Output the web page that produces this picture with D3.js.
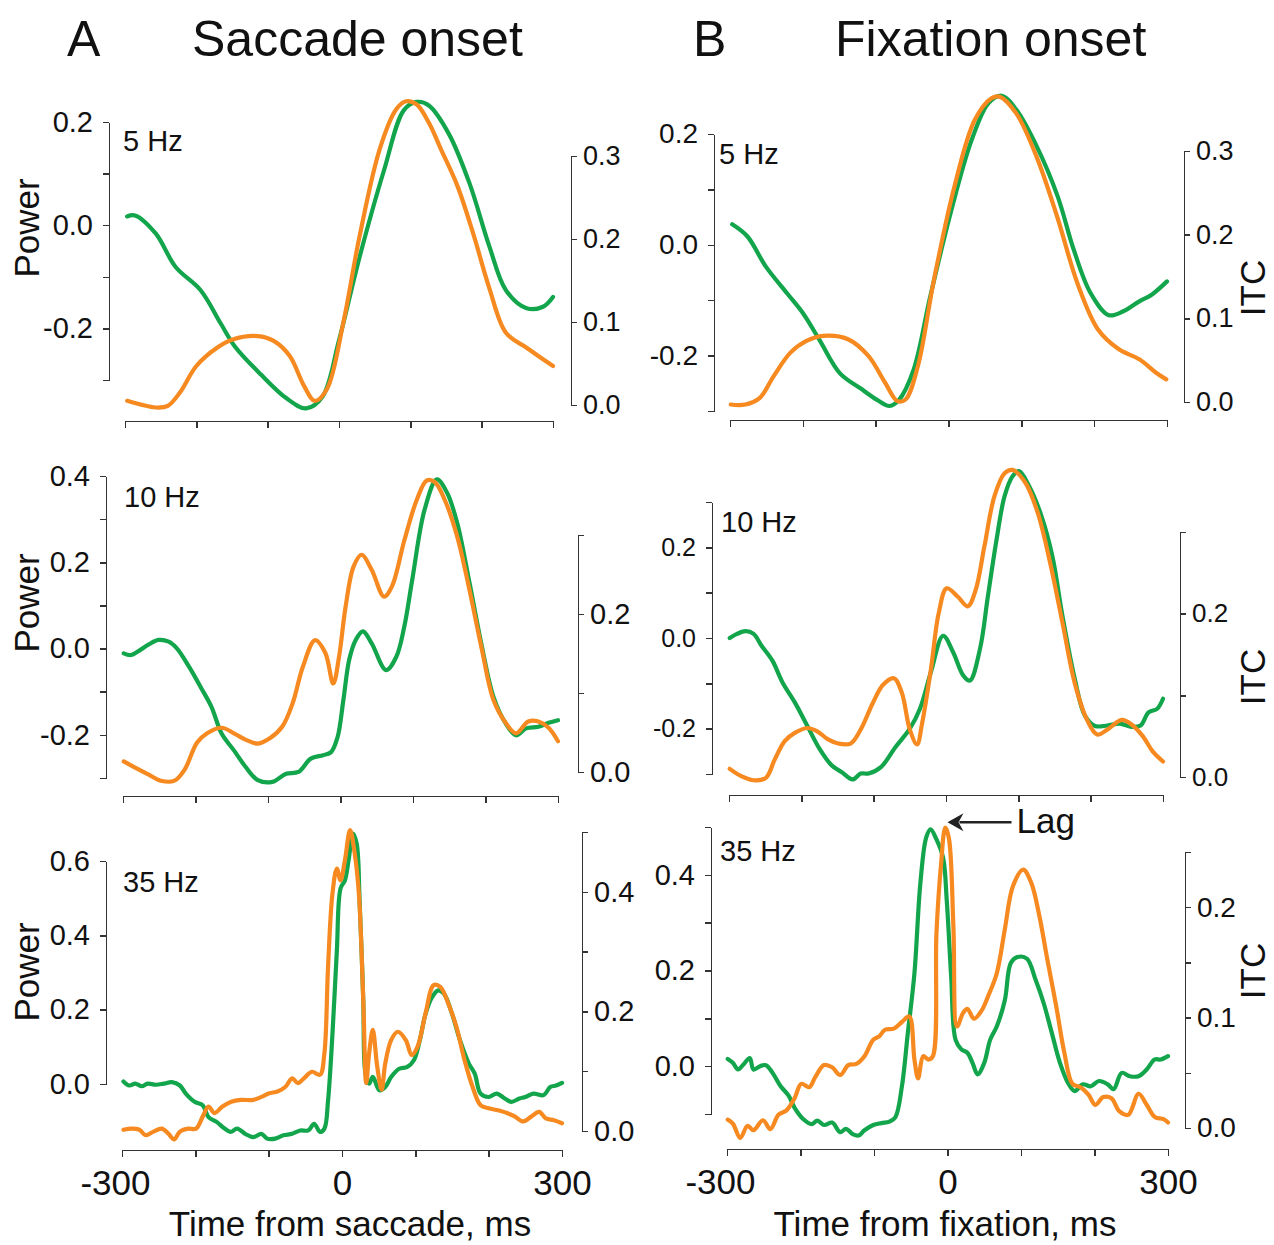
<!DOCTYPE html>
<html>
<head>
<meta charset="utf-8">
<title>Saccade onset / Fixation onset</title>
<script src="https://cdn.jsdelivr.net/npm/d3@7/dist/d3.min.js"></script>
<style>
  body { margin: 0; background: #fff; }
  svg text { font-family: "Liberation Sans", Arial, Helvetica, sans-serif; fill: #111; }
  .axis path, .axis line { stroke: #333; stroke-width: 1.5; fill: none; shape-rendering: crispEdges; }
  .trace { fill: none; stroke-width: 4.2; stroke-linejoin: round; stroke-linecap: round; }
</style>
</head>
<body>
<svg id="fig" width="1274" height="1245"></svg>
<script>
// traces: [time from event (ms), value]
// green = power (left axis), orange = ITC (right axis)
const a5Power = [[-297,0.017],[-286,0.019],[-257,-0.016],[-229,-0.081],[-194,-0.126],[-166,-0.19],[-146,-0.235],[-109,-0.29],[-74,-0.335],[-46,-0.355],[-23,-0.332],[0,-0.223],[29,-0.061],[63,0.106],[91,0.223],[109,0.239],[126,0.232],[154,0.177],[183,0.081],[211,-0.042],[234,-0.126],[263,-0.161],[286,-0.158],[300,-0.139]];
const a5Itc = [[-297,0.005],[-257,-0.003],[-240,-0.001],[-223,0.015],[-200,0.047],[-171,0.069],[-149,0.079],[-114,0.083],[-91,0.077],[-69,0.059],[-49,0.023],[-34,0.005],[-17,0.019],[6,0.099],[29,0.204],[57,0.308],[80,0.356],[94,0.366],[109,0.362],[126,0.34],[143,0.308],[166,0.264],[189,0.204],[211,0.14],[234,0.087],[263,0.069],[286,0.055],[300,0.047]];

const b5Power = [[-297,0.037],[-276,0.015],[-251,-0.039],[-222,-0.087],[-200,-0.123],[-177,-0.172],[-149,-0.232],[-121,-0.259],[-98,-0.28],[-81,-0.291],[-68,-0.28],[-48,-0.226],[-25,-0.093],[4,0.063],[32,0.19],[55,0.256],[73,0.269],[93,0.244],[121,0.178],[150,0.087],[172,-0.009],[195,-0.087],[220,-0.127],[240,-0.12],[262,-0.102],[279,-0.09],[300,-0.066]];
const b5Itc = [[-299,-0.003],[-279,-0.003],[-259,0.005],[-240,0.031],[-217,0.059],[-195,0.073],[-172,0.079],[-138,0.075],[-110,0.055],[-87,0.023],[-70,0.001],[-59,0.003],[-42,0.043],[-20,0.146],[8,0.257],[36,0.337],[59,0.363],[70,0.365],[93,0.345],[121,0.293],[149,0.222],[177,0.142],[205,0.087],[234,0.063],[262,0.051],[285,0.035],[299,0.027]];

const a10Power = [[-299,-0.011],[-289,-0.015],[-276,-0.003],[-265,0.009],[-251,0.02],[-237,0.016],[-226,0.001],[-209,-0.042],[-192,-0.092],[-178,-0.135],[-164,-0.197],[-147,-0.236],[-131,-0.274],[-114,-0.305],[-94,-0.309],[-75,-0.29],[-58,-0.286],[-41,-0.255],[-24,-0.247],[-13,-0.24],[-4,-0.205],[4,-0.119],[12,-0.026],[21,0.02],[31,0.04],[43,0.012],[63,-0.05],[77,-0.019],[88,0.051],[99,0.16],[116,0.322],[133,0.392],[147,0.361],[161,0.291],[178,0.152],[195,0.005],[211,-0.112],[228,-0.174],[242,-0.201],[256,-0.185],[273,-0.181],[287,-0.172],[300,-0.166]];
const a10Itc = [[-299,0.0135],[-282,0.005],[-265,-0.003],[-248,-0.011],[-229,-0.011],[-215,0.003],[-198,0.037],[-184,0.049],[-164,0.056],[-147,0.049],[-131,0.041],[-114,0.036],[-97,0.043],[-80,0.058],[-66,0.087],[-52,0.133],[-35,0.167],[-21,0.151],[-10,0.112],[-2,0.146],[7,0.209],[18,0.26],[29,0.275],[43,0.256],[60,0.222],[71,0.235],[88,0.293],[105,0.344],[119,0.369],[130,0.367],[144,0.344],[161,0.298],[178,0.23],[195,0.155],[211,0.091],[228,0.062],[242,0.049],[259,0.064],[273,0.064],[287,0.056],[300,0.039]];

const b10Power = [[-299,0],[-289,0.009],[-277,0.015],[-266,0.009],[-255,-0.017],[-240,-0.05],[-226,-0.098],[-209,-0.142],[-192,-0.193],[-175,-0.244],[-158,-0.281],[-144,-0.296],[-129,-0.312],[-118,-0.299],[-107,-0.299],[-90,-0.285],[-70,-0.241],[-50,-0.2],[-36,-0.156],[-21,-0.076],[-4,0.005],[10,-0.032],[24,-0.083],[33,-0.094],[47,-0.024],[58,0.093],[70,0.218],[81,0.313],[92,0.357],[101,0.368],[115,0.335],[132,0.269],[147,0.181],[161,0.049],[178,-0.09],[192,-0.171],[206,-0.194],[223,-0.193],[240,-0.189],[257,-0.196],[269,-0.193],[280,-0.164],[292,-0.156],[300,-0.134]];
const b10Itc = [[-299,0.01],[-283,0.001],[-266,-0.004],[-249,-0.001],[-237,0.021],[-223,0.044],[-209,0.054],[-192,0.06],[-178,0.056],[-163,0.046],[-149,0.041],[-132,0.041],[-118,0.058],[-101,0.091],[-87,0.113],[-72,0.121],[-61,0.103],[-50,0.058],[-40,0.04],[-33,0.066],[-21,0.131],[-10,0.201],[1,0.231],[16,0.221],[30,0.209],[41,0.229],[53,0.282],[67,0.344],[81,0.372],[92,0.376],[110,0.36],[127,0.323],[144,0.262],[161,0.189],[178,0.115],[195,0.07],[209,0.052],[223,0.058],[243,0.07],[257,0.064],[272,0.05],[286,0.031],[300,0.019]];

const a35Power = [[-298,0.007],[-290,-0.004],[-282,0.001],[-273,-0.006],[-265,0.001],[-254,-0.002],[-243,0.001],[-232,0.005],[-221,-0.004],[-213,-0.026],[-201,-0.048],[-190,-0.057],[-182,-0.089],[-171,-0.102],[-160,-0.12],[-152,-0.129],[-143,-0.12],[-132,-0.134],[-121,-0.143],[-110,-0.134],[-102,-0.147],[-91,-0.147],[-80,-0.138],[-68,-0.134],[-57,-0.125],[-46,-0.125],[-38,-0.107],[-30,-0.129],[-24,-0.12],[-19,-0.044],[-13,0.135],[-7,0.36],[-2,0.526],[4,0.548],[9,0.602],[15,0.674],[20,0.647],[24,0.494],[29,0.225],[32,0.028],[37,0.001],[42,0.019],[51,-0.017],[59,-0.008],[67,0.019],[78,0.041],[89,0.046],[98,0.064],[106,0.117],[114,0.189],[123,0.234],[131,0.252],[139,0.243],[150,0.189],[161,0.117],[173,0.055],[181,0.028],[189,-0.026],[200,-0.035],[211,-0.026],[222,-0.039],[231,-0.048],[242,-0.039],[250,-0.035],[261,-0.026],[275,-0.03],[284,-0.008],[292,-0.004],[300,0.003]];
const a35Itc = [[-298,0.002],[-287,0.004],[-276,0.002],[-268,-0.007],[-257,-0.001],[-246,0.004],[-237,-0.004],[-229,-0.014],[-221,-0.001],[-210,0.004],[-199,0.004],[-190,0.024],[-182,0.041],[-174,0.03],[-163,0.041],[-151,0.049],[-138,0.052],[-121,0.052],[-110,0.057],[-99,0.063],[-88,0.066],[-77,0.074],[-68,0.088],[-60,0.08],[-52,0.088],[-41,0.099],[-30,0.094],[-24,0.13],[-19,0.275],[-13,0.397],[-7,0.439],[-2,0.419],[4,0.453],[11,0.503],[17,0.467],[23,0.397],[29,0.219],[33,0.08],[37,0.13],[42,0.169],[48,0.108],[54,0.069],[59,0.113],[67,0.152],[76,0.166],[87,0.152],[95,0.127],[103,0.141],[114,0.197],[125,0.244],[134,0.241],[145,0.213],[156,0.174],[167,0.119],[178,0.074],[189,0.043],[200,0.038],[211,0.035],[225,0.03],[236,0.024],[247,0.016],[258,0.024],[269,0.032],[278,0.021],[289,0.018],[300,0.013]];

const b35Power = [[-299,0.015],[-292,0.007],[-285,-0.007],[-278,0.003],[-269,0.017],[-264,-0.007],[-255,0],[-247,0.002],[-238,-0.014],[-227,-0.042],[-216,-0.062],[-208,-0.087],[-196,-0.111],[-185,-0.121],[-177,-0.114],[-168,-0.123],[-157,-0.118],[-146,-0.138],[-138,-0.131],[-129,-0.142],[-121,-0.145],[-113,-0.134],[-101,-0.123],[-90,-0.119],[-79,-0.116],[-71,-0.107],[-62,-0.042],[-54,0.069],[-45,0.194],[-37,0.381],[-29,0.478],[-23,0.495],[-15,0.474],[-6,0.436],[-1,0.346],[5,0.187],[11,0.055],[19,0.035],[27,0.028],[34,0.007],[41,-0.017],[50,0.007],[58,0.055],[67,0.083],[78,0.138],[86,0.215],[95,0.228],[108,0.225],[120,0.18],[131,0.131],[142,0.069],[153,0.007],[164,-0.035],[173,-0.052],[184,-0.038],[195,-0.042],[206,-0.031],[218,-0.038],[226,-0.048],[237,-0.014],[248,-0.021],[260,-0.021],[271,-0.007],[282,0.014],[290,0.014],[300,0.021]];
const b35Itc = [[-299,0.0076],[-292,0.004],[-282,-0.009],[-272,0.002],[-264,-0.002],[-251,0.007],[-241,-0.001],[-230,0.012],[-219,0.016],[-208,0.027],[-199,0.04],[-188,0.037],[-180,0.046],[-168,0.057],[-157,0.055],[-146,0.048],[-135,0.057],[-124,0.058],[-113,0.065],[-101,0.08],[-93,0.083],[-85,0.089],[-73,0.09],[-62,0.096],[-52,0.101],[-45,0.062],[-40,0.045],[-33,0.065],[-26,0.062],[-20,0.065],[-15,0.177],[-9,0.237],[-3,0.272],[2,0.262],[8,0.183],[13,0.092],[21,0.104],[27,0.108],[36,0.099],[47,0.107],[55,0.119],[67,0.14],[78,0.18],[89,0.219],[103,0.234],[114,0.222],[125,0.192],[136,0.152],[148,0.11],[159,0.068],[170,0.04],[181,0.037],[192,0.03],[201,0.021],[212,0.028],[223,0.027],[234,0.015],[246,0.012],[260,0.031],[271,0.021],[282,0.01],[294,0.008],[300,0.005]];

// ticks and labels
const timeTicks = [-300, -200, -100, 0, 100, 200, 300];
const timeLabels = [-300, 0, 300];
const a5LeftTicks = [-0.3, -0.2, -0.1, 0, 0.1, 0.2], a5LeftLabels = [-0.2, 0, 0.2];
const a5RightTicks = [0, 0.1, 0.2, 0.3], a5RightLabels = [0, 0.1, 0.2, 0.3];
const a10LeftTicks = [-0.3, -0.2, -0.1, 0, 0.1, 0.2, 0.3, 0.4], a10LeftLabels = [-0.2, 0, 0.2, 0.4];
const a10RightTicks = [0, 0.1, 0.2, 0.3], a10RightLabels = [0, 0.2];
const b10LeftTicks = [-0.3, -0.2, -0.1, 0, 0.1, 0.2, 0.3], b10LeftLabels = [-0.2, 0, 0.2];
const a35LeftTicks = [0, 0.2, 0.4, 0.6], a35LeftLabels = [0, 0.2, 0.4, 0.6];
const a35RightTicks = [0, 0.1, 0.2, 0.3, 0.4, 0.5], a35RightLabels = [0, 0.2, 0.4];
const b35LeftTicks = [-0.1, 0, 0.1, 0.2, 0.3, 0.4, 0.5], b35LeftLabels = [0, 0.2, 0.4];
const b35RightTicks = [0, 0.05, 0.1, 0.15, 0.2, 0.25], b35RightLabels = [0, 0.1, 0.2];

const columnTitles = ["Saccade onset", "Fixation onset"];
const columnLetters = ["A", "B"];
const xTitles = ["Time from saccade, ms", "Time from fixation, ms"];

var green = "#12a54b";
var orange = "#f6891f";

// panel layout in page pixels
var panels = [
  { power: a5Power, itc: a5Itc, name: "5 Hz", col: 0, xr: [125, 553], axisY: 421,
    lx: 109, ld: [-0.3, 0.2], lr: [380, 122], lt: a5LeftTicks, ll: a5LeftLabels, lfs: 29,
    rx: 571, rd: [0, 0.3], rr: [405, 156], rt: a5RightTicks, rl: a5RightLabels, rfs: 27,
    nameX: 123, nameY: 151, ylab: [39, 228] },
  { power: b5Power, itc: b5Itc, name: "5 Hz", col: 1, xr: [730, 1167], axisY: 420,
    lx: 714, ld: [-0.3, 0.2], lr: [411, 134], lt: a5LeftTicks, ll: a5LeftLabels, lfs: 28,
    rx: 1184, rd: [0, 0.3], rr: [402, 151], rt: a5RightTicks, rl: a5RightLabels, rfs: 27,
    nameX: 719, nameY: 164, ylab: [1265, 288] },
  { power: a10Power, itc: a10Itc, name: "10 Hz", col: 0, xr: [123, 558], axisY: 796,
    lx: 106, ld: [-0.3, 0.4], lr: [778, 476], lt: a10LeftTicks, ll: a10LeftLabels, lfs: 29,
    rx: 578, rd: [0, 0.3], rr: [772, 535], rt: a10RightTicks, rl: a10RightLabels, rfs: 29,
    nameX: 124, nameY: 507, ylab: [39, 603] },
  { power: b10Power, itc: b10Itc, name: "10 Hz", col: 1, xr: [729, 1163], axisY: 795,
    lx: 712, ld: [-0.3, 0.3], lr: [774, 502], lt: b10LeftTicks, ll: b10LeftLabels, lfs: 25,
    rx: 1180, rd: [0, 0.3], rr: [777, 532], rt: a10RightTicks, rl: a10RightLabels, rfs: 26,
    nameX: 721, nameY: 532, ylab: [1265, 677] },
  { power: a35Power, itc: a35Itc, name: "35 Hz", col: 0, xr: [122, 562], axisY: 1150,
    lx: 106, ld: [0, 0.6], lr: [1084, 861], lt: a35LeftTicks, ll: a35LeftLabels, lfs: 29,
    rx: 582, rd: [0, 0.5], rr: [1131, 832], rt: a35RightTicks, rl: a35RightLabels, rfs: 29,
    nameX: 123, nameY: 892, ylab: [39, 972], bottom: true },
  { power: b35Power, itc: b35Itc, name: "35 Hz", col: 1, xr: [727, 1168], axisY: 1149,
    lx: 711, ld: [-0.1, 0.5], lr: [1114, 827], lt: b35LeftTicks, ll: b35LeftLabels, lfs: 29,
    rx: 1185, rd: [0, 0.25], rr: [1128, 852], rt: b35RightTicks, rl: b35RightLabels, rfs: 28,
    nameX: 720, nameY: 861, ylab: [1265, 971], bottom: true, lag: true }
];

var svg = d3.select("#fig");

function has(list, v) {
  return list.some(function(d) { return Math.abs(d - v) < 1e-9; });
}

function fmt(v) {
  return (Math.abs(v) < 1e-9 ? 0 : v).toFixed(1);
}

panels.forEach(function(p) {
  var x = d3.scaleLinear().domain([-300, 300]).range(p.xr);
  var yL = d3.scaleLinear().domain(p.ld).range(p.lr);
  var yR = d3.scaleLinear().domain(p.rd).range(p.rr);
  var g = svg.append("g");

  // x axis
  var xa = g.append("g").attr("class", "axis")
    .attr("transform", "translate(0," + p.axisY + ")")
    .call(d3.axisBottom(x).tickValues(timeTicks).tickSize(7).tickSizeOuter(0).tickPadding(13)
      .tickFormat(function(d) { return p.bottom && has(timeLabels, d) ? String(d) : ""; }));
  xa.attr("font-size", 35);
  xa.selectAll("text").attr("dx", function(d) { return d < 0 ? -7 : 0; });

  // left axis (power)
  var la = g.append("g").attr("class", "axis")
    .attr("transform", "translate(" + p.lx + ",0)")
    .call(d3.axisLeft(yL).tickValues(p.lt).tickSize(6).tickSizeOuter(0).tickPadding(10)
      .tickFormat(function(d) { return has(p.ll, d) ? fmt(d) : ""; }));
  la.attr("font-size", p.lfs);

  // right axis (ITC)
  var ra = g.append("g").attr("class", "axis")
    .attr("transform", "translate(" + p.rx + ",0)")
    .call(d3.axisRight(yR).tickValues(p.rt).tickSize(6).tickSizeOuter(0).tickPadding(6)
      .tickFormat(function(d) { return has(p.rl, d) ? fmt(d) : ""; }));
  ra.attr("font-size", p.rfs);

  var lineL = d3.line().x(function(d) { return x(d[0]); }).y(function(d) { return yL(d[1]); })
    .curve(d3.curveCatmullRom.alpha(0.5));
  var lineR = d3.line().x(function(d) { return x(d[0]); }).y(function(d) { return yR(d[1]); })
    .curve(d3.curveCatmullRom.alpha(0.5));

  g.append("path").attr("class", "trace").attr("stroke", green).attr("d", lineL(p.power));
  g.append("path").attr("class", "trace").attr("stroke", orange).attr("d", lineR(p.itc));

  g.append("text").attr("x", p.nameX).attr("y", p.nameY).attr("font-size", 29).text(p.name);

  g.append("text")
    .attr("transform", "translate(" + p.ylab[0] + "," + p.ylab[1] + ") rotate(-90)")
    .attr("text-anchor", "middle").attr("font-size", 35)
    .text(p.col === 0 ? "Power" : "ITC");

  // lag arrow pointing at the ITC peak near fixation onset
  if (p.lag) {
    var tipX = x(0), tipY = yR(0.277);
    svg.append("path")
      .attr("d", "M" + tipX + "," + tipY + " l16,-9 l-5,9 l5,9 z")
      .attr("fill", "#222");
    svg.append("line")
      .attr("x1", tipX + 12).attr("y1", tipY).attr("x2", tipX + 64).attr("y2", tipY)
      .attr("stroke", "#222").attr("stroke-width", 2.5);
    svg.append("text").attr("x", tipX + 69).attr("y", tipY + 11)
      .attr("font-size", 35).text("Lag");
  }
});

// column titles and x-axis titles
var titleX = [[67, 192], [693, 835]];
var xTitleX = [350, 945];
columnTitles.forEach(function(t, i) {
  svg.append("text").attr("x", titleX[i][0]).attr("y", 56).attr("font-size", 50).text(columnLetters[i]);
  svg.append("text").attr("x", titleX[i][1]).attr("y", 56).attr("font-size", 50).text(t);
  svg.append("text").attr("x", xTitleX[i]).attr("y", 1236).attr("text-anchor", "middle")
    .attr("font-size", 35).attr("fill", "#333").text(xTitles[i]);
});
</script>
</body>
</html>
